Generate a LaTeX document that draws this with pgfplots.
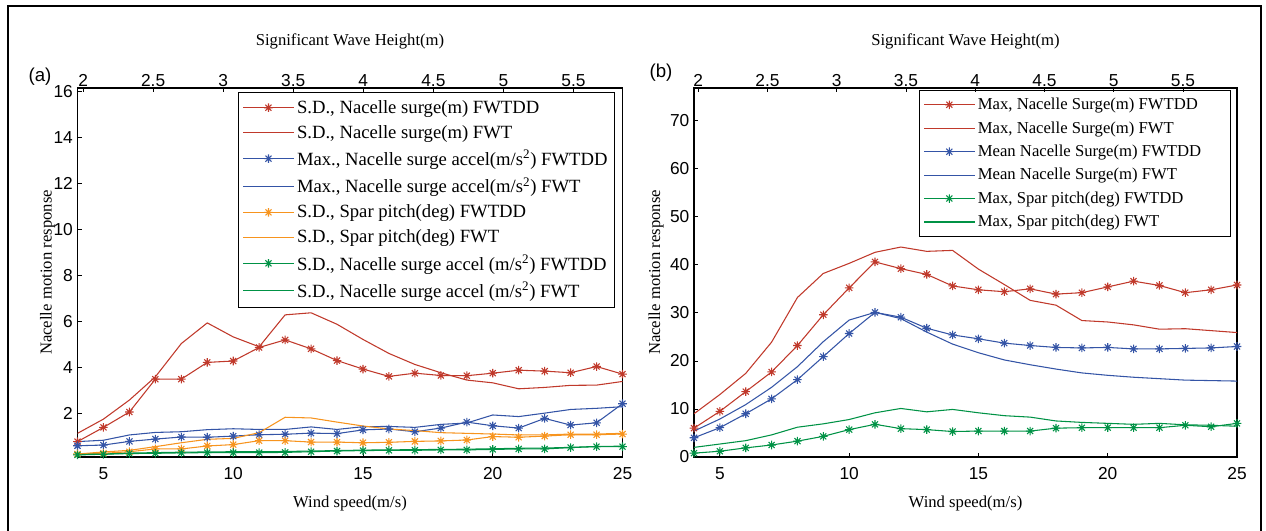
\documentclass[border=0pt]{standalone}
\usepackage{fontspec}
\setmainfont{Liberation Serif}
\setsansfont{Liberation Sans}
\usepackage{pgfplots}
\usepackage{pgfplotstable}
\pgfplotsset{compat=1.18}

\definecolor{cr}{RGB}{192,57,43}
\definecolor{cb}{RGB}{52,84,166}
\definecolor{co}{RGB}{247,148,30}
\definecolor{cg}{RGB}{0,146,69}

\pgfdeclareplotmark{mstar}{%
  \pgfpathmoveto{\pgfqpoint{-\pgfplotmarksize}{0pt}}\pgfpathlineto{\pgfqpoint{\pgfplotmarksize}{0pt}}%
  \pgfpathmoveto{\pgfqpoint{0pt}{-\pgfplotmarksize}}\pgfpathlineto{\pgfqpoint{0pt}{\pgfplotmarksize}}%
  \pgfpathmoveto{\pgfqpoint{-.707\pgfplotmarksize}{-.707\pgfplotmarksize}}\pgfpathlineto{\pgfqpoint{.707\pgfplotmarksize}{.707\pgfplotmarksize}}%
  \pgfpathmoveto{\pgfqpoint{-.707\pgfplotmarksize}{.707\pgfplotmarksize}}\pgfpathlineto{\pgfqpoint{.707\pgfplotmarksize}{-.707\pgfplotmarksize}}%
  \pgfusepathqstroke}

\pgfplotstableread{
w  rD    rL    bD    bL    oD    oL    gD    gL
4  0.77  1.13  0.59  0.77  0.23  0.23  0.19  0.21
5  1.39  1.75  0.62  0.83  0.26  0.32  0.22  0.23
6  2.06  2.58  0.78  1.06  0.33  0.39  0.25  0.27
7  3.49  3.59  0.88  1.17  0.45  0.55  0.26  0.29
8  3.49  5.04  0.97  1.20  0.45  0.72  0.28  0.31
9  4.22  5.94  0.96  1.29  0.58  0.87  0.29  0.32
10 4.28  5.33  1.01  1.33  0.64  0.91  0.29  0.33
11 4.87  4.90  1.07  1.30  0.81  1.16  0.29  0.33
12 5.20  6.29  1.09  1.30  0.81  1.83  0.30  0.34
13 4.81  6.38  1.14  1.41  0.75  1.80  0.33  0.36
14 4.30  5.88  1.12  1.30  0.75  1.62  0.36  0.38
15 3.93  5.22  1.28  1.42  0.72  1.45  0.38  0.40
16 3.61  4.61  1.32  1.43  0.74  1.32  0.39  0.41
17 3.75  4.13  1.20  1.39  0.78  1.25  0.39  0.42
18 3.65  3.77  1.36  1.52  0.80  1.16  0.41  0.43
19 3.64  3.45  1.62  1.58  0.84  1.13  0.41  0.44
20 3.75  3.33  1.46  1.93  0.99  1.10  0.43  0.46
21 3.88  3.07  1.36  1.86  0.96  1.06  0.45  0.48
22 3.84  3.13  1.78  2.01  1.01  1.06  0.45  0.49
23 3.77  3.22  1.49  2.17  1.07  1.10  0.51  0.52
24 4.04  3.23  1.59  2.22  1.07  1.10  0.55  0.56
25 3.71  3.39  2.42  2.29  1.10  1.13  0.55  0.57
}\tabA

\pgfplotstableread{
w  rD    rL    bD    bL    gD   gL
4  6.0   9.0   4.0   5.4   0.8  2.0
5  9.5   13.0  6.1   7.9   1.2  2.7
6  13.6  17.4  9.0   10.9  1.9  3.4
7  17.7  23.9  12.1  14.5  2.5  4.6
8  23.2  33.2  16.1  18.8  3.3  6.2
9  29.6  38.2  20.9  24.0  4.3  6.9
10 35.2  40.3  25.7  28.5  5.7  7.8
11 40.6  42.6  30.1  30.1  6.8  9.2
12 39.2  43.7  29.1  28.8  5.9  10.1
13 38.0  42.8  26.8  26.0  5.7  9.4
14 35.6  43.0  25.4  23.5  5.3  9.9
15 34.8  39.1  24.6  21.7  5.4  9.2
16 34.4  35.9  23.7  20.2  5.4  8.6
17 35.0  32.6  23.2  19.2  5.4  8.3
18 33.9  31.6  22.8  18.3  6.0  7.5
19 34.2  28.4  22.7  17.5  6.1  7.2
20 35.4  28.1  22.8  17.0  6.1  7.0
21 36.6  27.5  22.5  16.6  6.1  6.8
22 35.7  26.6  22.5  16.3  6.1  7.0
23 34.2  26.7  22.6  16.0  6.6  6.7
24 34.8  26.3  22.7  15.9  6.3  6.6
25 35.8  25.9  23.0  15.8  7.0  6.4
}\tabB

\pgfplotsset{
  base/.style={
    scale only axis, height=276.75pt,
    tick align=inside, major tick length=3pt,
    axis line style={line width=0.9pt},
    every tick/.style={black, line width=0.6pt},
    tick label style={font=\sffamily\fontsize{13}{15}\selectfont},
    /pgf/number format/assume math mode=true,
    label style={font=\fontsize{12.5}{15}\selectfont},
  },
  main/.style={
    base, xmin=4, xmax=25, xtick={5,10,15,20,25},
    xtick pos=left, ytick pos=left,
    xticklabel style={yshift=-4.5pt},
    xlabel={Wind speed(m/s)}, ylabel={Nacelle motion response},
    xlabel style={at={(axis description cs:0.5,-0.127)}, anchor=center},
    every axis plot/.append style={line width=0.8pt, mark size=3.2pt},
    legend cell align=left,
    legend image code/.code={%
      \draw[##1, mark=none] (0pt,0pt) -- (38pt,0pt);
      \draw[##1, only marks] plot coordinates {(19pt,0pt)};},
    legend style={draw=black, line width=0.9pt,
       anchor=north east, inner xsep=3pt, inner ysep=2pt,
       nodes={inner ysep=3.7pt}},
  },
  hs/.style={
    base, ymin=0, ymax=1, axis x line*=top, axis y line=none,
    xtick={2,2.5,3,3.5,4,4.5,5,5.5},
    xticklabel style={inner sep=1pt},
    xlabel={Significant Wave Height(m)},
    xlabel style={at={(axis description cs:0.5,1.125)}, anchor=center},
  },
}

\begin{document}
\begin{tikzpicture}
\useasboundingbox (0,0) rectangle (949.5pt,398.25pt);
\draw[line width=1.5pt] (6pt,0pt) -- (6pt,393.75pt) -- (945.75pt,393.75pt) -- (945.75pt,0pt);

% ---------- panel (a) ----------
\begin{axis}[main, at={(58.125pt,55.5pt)}, anchor=south west, width=408.75pt,
  ymin=0.1, ymax=16.17, ytick={2,4,6,8,10,12,14,16},
  ylabel style={at={(axis description cs:-0.055,0.5)}, anchor=center},
  legend style={at={(0.986,0.989)}, font=\fontsize{14}{16}\selectfont}]
\addplot[draw=cr, mark=mstar] table[x=w,y=rD]{\tabA};
\addlegendentry{S.D., Nacelle surge(m) FWTDD}
\addplot[draw=cr, mark=none] table[x=w,y=rL]{\tabA};
\addlegendentry{S.D., Nacelle surge(m) FWT}
\addplot[draw=cb, mark=mstar] table[x=w,y=bD]{\tabA};
\addlegendentry{Max., Nacelle surge accel(m/s\textsuperscript{2}) FWTDD}
\addplot[draw=cb, mark=none] table[x=w,y=bL]{\tabA};
\addlegendentry{Max., Nacelle surge accel(m/s\textsuperscript{2}) FWT}
\addplot[draw=co, mark=mstar] table[x=w,y=oD]{\tabA};
\addlegendentry{S.D., Spar pitch(deg) FWTDD}
\addplot[draw=co, mark=none] table[x=w,y=oL]{\tabA};
\addlegendentry{S.D., Spar pitch(deg) FWT}
\addplot[draw=cg, mark=mstar] table[x=w,y=gD]{\tabA};
\addlegendentry{S.D., Nacelle surge accel (m/s\textsuperscript{2}) FWTDD}
\addplot[draw=cg, mark=none] table[x=w,y=gL]{\tabA};
\addlegendentry{S.D., Nacelle surge accel (m/s\textsuperscript{2}) FWT}
\end{axis}
\begin{axis}[hs, at={(58.125pt,55.5pt)}, anchor=south west, width=408.75pt,
  xmin=1.96, xmax=5.85]
\addplot[draw=none] coordinates {(2,0.5)};
\end{axis}

% ---------- panel (b) ----------
\begin{axis}[main, at={(520.5pt,55.5pt)}, anchor=south west, width=407.25pt,
  ymin=0, ymax=76.8, ytick={0,10,20,30,40,50,60,70},
  ylabel style={at={(axis description cs:-0.07,0.5)}, anchor=center},
  legend style={at={(0.989,0.995)}, font=\fontsize{12.5}{15}\selectfont}]
\addplot[draw=cr, mark=mstar] table[x=w,y=rD]{\tabB};
\addlegendentry{Max, Nacelle Surge(m) FWTDD}
\addplot[draw=cr, mark=none] table[x=w,y=rL]{\tabB};
\addlegendentry{Max, Nacelle Surge(m) FWT}
\addplot[draw=cb, mark=mstar] table[x=w,y=bD]{\tabB};
\addlegendentry{Mean Nacelle Surge(m) FWTDD\hspace*{17pt}}
\addplot[draw=cb, mark=none] table[x=w,y=bL]{\tabB};
\addlegendentry{Mean Nacelle Surge(m) FWT}
\addplot[draw=cg, mark=mstar] table[x=w,y=gD]{\tabB};
\addlegendentry{Max, Spar pitch(deg) FWTDD}
\addplot[draw=cg, mark=none] table[x=w,y=gL]{\tabB};
\addlegendentry{Max, Spar pitch(deg) FWT}
\end{axis}
\begin{axis}[hs, at={(520.5pt,55.5pt)}, anchor=south west, width=407.25pt,
  xmin=1.97, xmax=5.89]
\addplot[draw=none] coordinates {(2,0.5)};
\end{axis}

\node[font=\sffamily\fontsize{14}{16}\selectfont] at (30pt,340.5pt) {(a)};
\node[font=\sffamily\fontsize{14}{16}\selectfont] at (495.75pt,343.5pt) {(b)};
\end{tikzpicture}
\end{document}
